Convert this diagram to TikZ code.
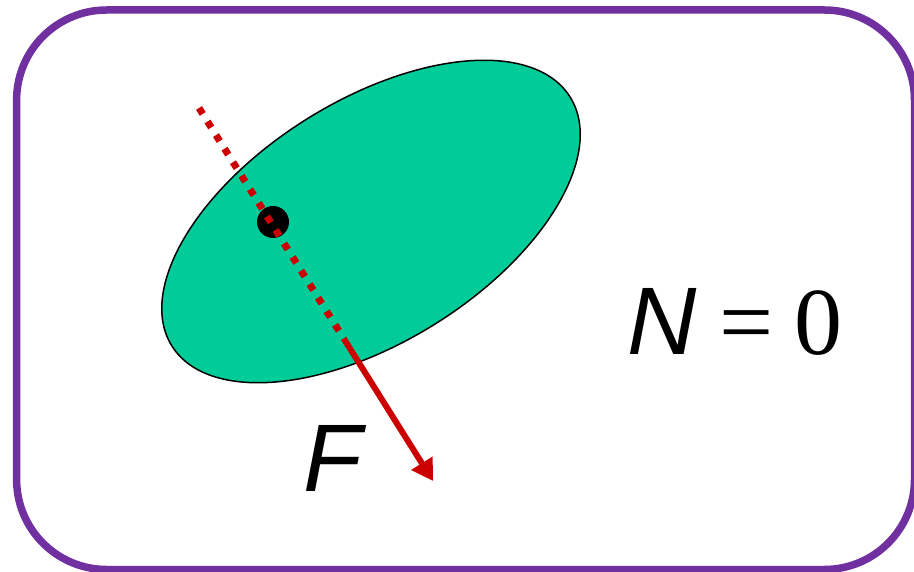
\documentclass[tikz,border=0pt]{standalone}
\usepackage{fontspec}
\usetikzlibrary{arrows.meta,shapes.geometric}
\newfontfamily\arialfam{Liberation Sans}
\newfontfamily\timesfam{Liberation Serif}
\definecolor{framepurple}{HTML}{7030A0}
\definecolor{bodygreen}{HTML}{00CC99}
\definecolor{forcered}{HTML}{CC0000}
\tikzset{
  frame/.style={draw=framepurple, line width=7.5pt, rounded corners=90pt},
  body/.style={ellipse, draw=black, line width=1.5pt, fill=bodygreen, inner sep=0pt,
    minimum width=469.6pt, minimum height=241.8pt, rotate=32},
  pointdot/.style={circle, fill=black, inner sep=0pt, minimum size=32pt},
  lineofaction/.style={draw=forcered, line width=7pt, dash pattern=on 7pt off 9pt},
  forcearrow/.style={draw=forcered, line width=6pt, -{Triangle[length=21pt,width=24pt]}},
  bigtext/.style={inner sep=0pt, font=\fontsize{96}{96}\selectfont}
}
\begin{document}
\begin{tikzpicture}[x=1pt,y=1pt]
\useasboundingbox (0,0) rectangle (914,571);
\draw[frame] (16.6,1.5) rectangle (914.5,561);
\node[body] (ellipsebody) at (371,349.5) {};
\node[pointdot] (pt) at (273,349) {};
\coordinate (s) at (199,463);
\coordinate (m) at (344,232);
\coordinate (t) at (433,90);
\draw[lineofaction] (s) -- (m);
\draw[forcearrow] (m) -- (t);
\node[bigtext, anchor=base west] (flabel) at (303,79) {\arialfam\itshape F};
\node[bigtext, anchor=base west] (nlabel) at (627,216) {{\arialfam\itshape N}\hspace{0.24em}{\timesfam =}\hspace{0.22em}{\timesfam 0}};
\end{tikzpicture}
\end{document}
